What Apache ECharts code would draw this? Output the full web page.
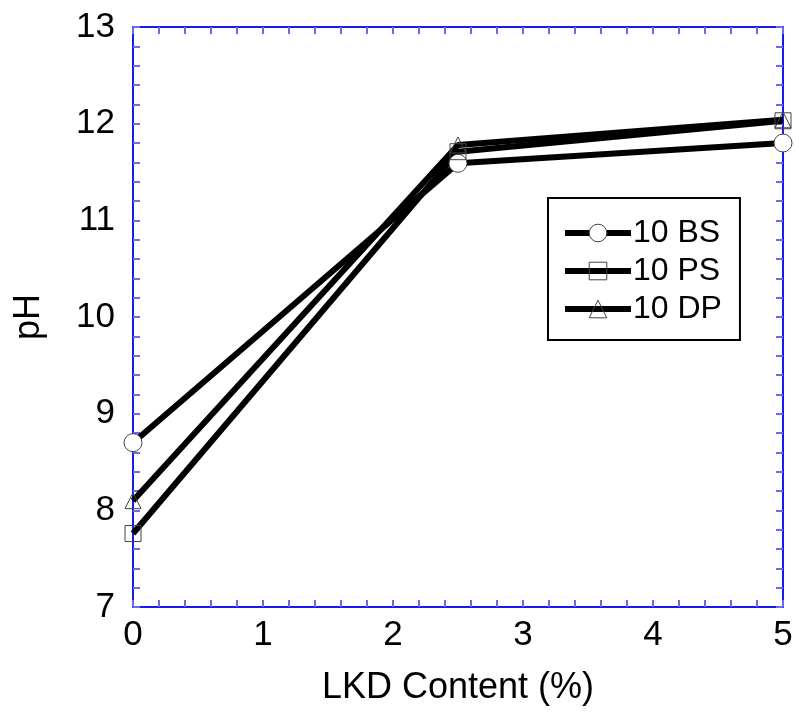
<!DOCTYPE html>
<html>
<head>
<meta charset="utf-8">
<script src="https://cdn.jsdelivr.net/npm/echarts@6/dist/echarts.min.js"></script>
<style>html,body{margin:0;padding:0;background:#fff;}#c{width:799px;height:714px;}</style>
</head>
<body>
<div id="c"></div>
<script>
const xValues = [0, 2.5, 5];
const seriesNames = ['10 BS', '10 PS', '10 DP'];
const bsValues = [8.70, 11.59, 11.80];
const psValues = [7.76, 11.71, 12.03];
const dpValues = [8.10, 11.78, 12.04];
const symbols = ['circle', 'rect', 'triangle'];
const symbolSizes = [18, 16, 16];
const symbolFills = ['#ffffff', 'rgba(255,255,255,0)', 'rgba(255,255,255,0)'];

const FONT = 'Liberation Sans, Arial, sans-serif';
const AX = '#1a1aee';
const TK = '#6a6af5';

function pairs(vals){ return xValues.map((x,i)=>[x, vals[i]]); }
const allVals = [bsValues, psValues, dpValues];

function axisCommon(showLabel, margin){
  return {
    axisLine: {show: true, onZero: false, lineStyle: {color: AX, width: 2}},
    axisTick: {show: true, inside: true, length: 7, lineStyle: {color: TK, width: 2}},
    minorTick: {show: true, splitNumber: 5, length: 7, lineStyle: {color: TK, width: 2}},
    splitLine: {show: false},
    axisLabel: {show: showLabel, color: '#000', fontSize: 35, fontFamily: FONT, margin: margin || 8}
  };
}

const chart = echarts.init(document.getElementById('c'), null, {renderer: 'canvas'});
chart.setOption({
  backgroundColor: '#fff',
  animation: false,
  grid: {left: 133, right: 16, top: 27, bottom: 107, containLabel: false},
  xAxis: [
    Object.assign({type: 'value', min: 0, max: 5, interval: 1, position: 'bottom',
      name: 'LKD Content (%)', nameLocation: 'middle', nameGap: 63,
      nameTextStyle: {color: '#000', fontSize: 36, fontFamily: FONT}}, axisCommon(true, 11)),
    Object.assign({type: 'value', min: 0, max: 5, interval: 1, position: 'top'}, axisCommon(false))
  ],
  yAxis: [
    Object.assign({type: 'value', min: 7, max: 13, interval: 1, position: 'left',
      name: 'pH', nameLocation: 'middle', nameGap: 86, nameRotate: 90,
      nameTextStyle: {color: '#000', fontSize: 36, fontFamily: FONT}}, axisCommon(true, 18)),
    Object.assign({type: 'value', min: 7, max: 13, interval: 1, position: 'right'}, axisCommon(false))
  ],
  legend: {
    show: true,
    data: seriesNames.map((n, i) => ({name: n, itemStyle: {color: symbolFills[i], borderColor: '#444', borderWidth: 1}})),
    orient: 'vertical',
    left: 548, top: 198,
    padding: [19, 18, 15, 14],
    itemWidth: 66, itemHeight: 22, itemGap: 6,
    borderColor: '#000', borderWidth: 2,
    backgroundColor: '#fff',
    lineStyle: {width: 6, color: '#000'},
    textStyle: {color: '#000', fontSize: 32, lineHeight: 32, fontFamily: FONT, padding: [0,0,0,-3]}
  },
  series: seriesNames.map((name, i) => ({
    name: name,
    type: 'line',
    data: pairs(allVals[i]),
    symbol: symbols[i],
    symbolSize: symbolSizes[i],
    showAllSymbol: true,
    lineStyle: {color: '#000', width: 6},
    itemStyle: {color: symbolFills[i], borderColor: '#444', borderWidth: 1},
    z: 2
  }))
});
</script>
</body>
</html>
